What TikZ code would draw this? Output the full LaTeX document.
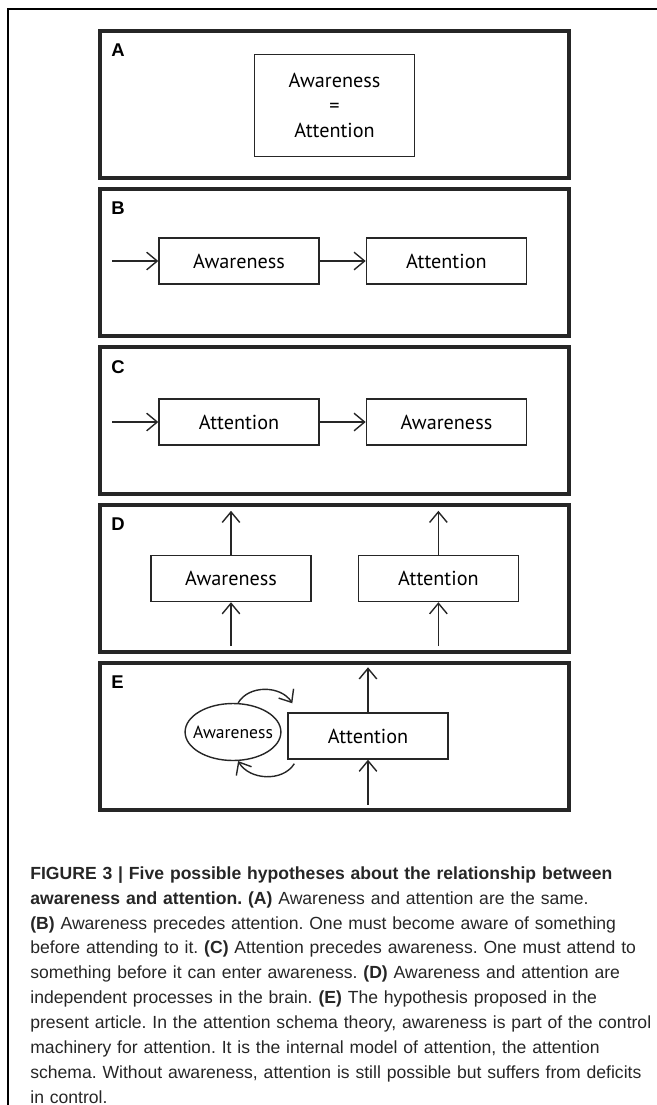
\documentclass[tikz,border=0pt]{standalone}
\usepackage{fontspec}
\setmainfont{Liberation Sans}
\newfontfamily\etiqueta{PT Sans}
\usetikzlibrary{arrows.meta, positioning, shapes.geometric}

\begin{document}
\begin{tikzpicture}[
        marco/.style={
            rectangle,
            minimum width=9.38cm,
            minimum height=2.94cm,
            line width=1.8pt,
            draw=black!85
        },
        letra/.style={
            inner sep=0pt,
            font=\fontsize{10.5}{12}\selectfont\bfseries
        },
        caja/.style={
            rectangle,
            minimum width=3.2cm,
            minimum height=0.92cm,
            inner sep=0pt,
            align=center,
            draw=black!85,
            line width=0.8pt,
            font=\etiqueta\fontsize{11.5}{14.4}\selectfont
        },
        ovalo/.style={
            ellipse,
            minimum width=1.8cm,
            minimum height=1.14cm,
            inner xsep=-0.12cm,
            inner ysep=0pt,
            draw=black!85,
            line width=0.8pt,
            font=\etiqueta\fontsize{10}{11}\selectfont
        },
        flecha/.style={-{Straight Barb[length=6pt, width=10pt]}, line width=0.8pt, draw=black!85}
    ]
        \useasboundingbox (0,0) rectangle (13.14,-22.1);
        \draw[line width=1.4pt] (0.16,-22.1) |- (13.14,-0.18);

        % A
        \node[marco] (panela) at (6.69,-2.09) {};
        \node[letra, below right=0.29cm and 0.25cm of panela.north west] (letraa) {A};
        \node[caja, minimum height=2.04cm] (iguala) at (6.69,-2.11)
            {Awareness\\=\\Attention};

        % B
        \node[marco] (panelb) at (6.69,-5.25) {};
        \node[letra, below right=0.29cm and 0.25cm of panelb.north west] (letrab) {B};
        \node[caja] (awb) at (4.78,-5.22) {Awareness};
        \node[caja, right=0.92cm of awb] (atb) {Attention};
        \coordinate[left=0.92cm of awb] (entradab);
        \draw[flecha] (entradab) -- (awb.west);
        \draw[flecha] (awb.east) -- (atb.west);

        % C
        \node[marco] (panelc) at (6.69,-8.41) {};
        \node[letra, below right=0.29cm and 0.25cm of panelc.north west] (letrac) {C};
        \node[caja] (atc) at (4.78,-8.44) {Attention};
        \node[caja, right=0.92cm of atc] (awc) {Awareness};
        \coordinate[left=0.92cm of atc] (entradac);
        \draw[flecha] (entradac) -- (atc.west);
        \draw[flecha] (atc.east) -- (awc.west);

        % D
        \node[marco] (paneld) at (6.69,-11.57) {};
        \node[letra, below right=0.29cm and 0.25cm of paneld.north west] (letrad) {D};
        \node[caja] (awd) at (4.62,-11.57) {Awareness};
        \node[caja, right=0.92cm of awd] (atd) {Attention};
        \coordinate[above=0.88cm of awd] (awdarriba);
        \coordinate[below=0.88cm of awd] (awdabajo);
        \coordinate[above=0.88cm of atd] (atdarriba);
        \coordinate[below=0.88cm of atd] (atdabajo);
        \draw[flecha] (awdabajo) -- (awd.south);
        \draw[flecha] (awd.north) -- (awdarriba);
        \draw[flecha] (atdabajo) -- (atd.south);
        \draw[flecha] (atd.north) -- (atdarriba);

        % E
        \node[marco] (panele) at (6.69,-14.73) {};
        \node[letra, below right=0.29cm and 0.25cm of panele.north west] (letrae) {E};
        \node[ovalo] (awe) at (4.66,-14.64) {Awareness};
        \node[caja] (ate) at (7.36,-14.72) {Attention};
        \coordinate[above=0.9cm of ate] (atearriba);
        \coordinate[below=0.9cm of ate] (ateabajo);
        \coordinate (curvaarriba) at ([xshift=0.1cm, yshift=0.18cm] ate.north west);
        \coordinate (curvaabajo) at ([xshift=0.14cm, yshift=-0.08cm] ate.south west);
        \draw[flecha] (ateabajo) -- (ate.south);
        \draw[flecha] (ate.north) -- (atearriba);
        \draw[flecha] (awe.80) to[out=60, in=122] (curvaarriba);
        \draw[flecha] (curvaabajo) to[out=-122, in=-60] (awe.-80);

        % leyenda
        \node[anchor=north west, inner sep=0pt, align=left, text width=12.7cm,
            text=black!85, font=\fontsize{10}{14.2}\selectfont\frenchspacing] (leyenda) at (0.6,-17.32)
            {\textbf{FIGURE 3 | Five possible hypotheses about the relationship between}\\
             \textbf{awareness and attention. (A)} Awareness and attention are the same.\\
             \textbf{(B)} Awareness precedes attention. One must become aware of something\\
             before attending to it. \textbf{(C)} Attention precedes awareness. One must attend to\\
             something before it can enter awareness. \textbf{(D)} Awareness and attention are\\
             independent processes in the brain. \textbf{(E)} The hypothesis proposed in the\\
             present article. In the attention schema theory, awareness is part of the control\\
             machinery for attention. It is the internal model of attention, the attention\\
             schema. Without awareness, attention is still possible but suffers from deficits\\
             in control.};
    \end{tikzpicture}
\end{document}
